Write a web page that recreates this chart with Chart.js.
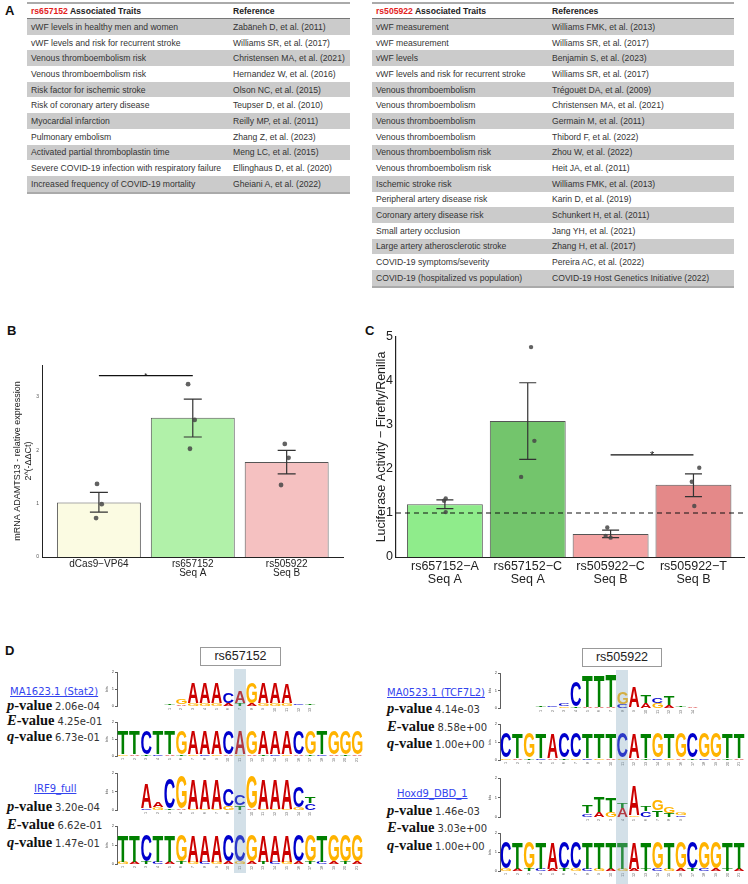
<!DOCTYPE html>
<html><head><meta charset="utf-8">
<script src="https://cdn.jsdelivr.net/npm/chart.js@4.4.1/dist/chart.umd.min.js"></script>
<style>
html,body{margin:0;padding:0;background:#fff}
body{width:748px;height:884px;position:relative;overflow:hidden;font-family:'Liberation Sans',Arial,sans-serif}
.pl{position:absolute;font:bold 13px 'Liberation Sans',Arial,sans-serif;color:#111;line-height:13px}
.tbl{position:absolute;border-top:2px solid #aaa;border-bottom:2px solid #aaa;font-size:8.6px;color:#333}
.row{display:flex;align-items:center;height:15.7px;white-space:nowrap}
.row.g{background:#cbcbcb}
.row.h{height:14px;border-bottom:1px solid #777;font-weight:bold;color:#222}
.cell{padding-left:4px;box-sizing:border-box;overflow:visible}
.red{color:#e3211c}
canvas{position:absolute}
.lnk{position:absolute;font:10px 'DejaVu Sans',sans-serif;color:#3344ee;text-decoration:underline;white-space:nowrap;line-height:12px}
.stat{position:absolute;white-space:nowrap;line-height:16px}
.stat b{font:bold 14.5px 'Liberation Serif',serif;color:#111}
.stat b i{font-style:italic}
.stat span{font:10px 'DejaVu Sans',sans-serif;color:#333;margin-left:3px}
.box{position:absolute;border:1px solid #999;box-sizing:border-box;text-align:center;font:12.5px 'Liberation Sans',Arial,sans-serif;color:#222}
.hl{position:absolute;background:rgba(129,166,189,0.35);pointer-events:none;z-index:5}
</style></head><body>
<div class="pl" style="left:5px;top:4px">A</div>
<div class="pl" style="left:7px;top:324px">B</div>
<div class="pl" style="left:365px;top:324px">C</div>
<div class="pl" style="left:5px;top:644px">D</div>
<div id="tblL" class="tbl" style="left:27px;top:2px;width:323px"></div>
<div id="tblR" class="tbl" style="left:372px;top:2px;width:362px"></div>
<canvas id="cB" width="370" height="255" style="left:0;top:330px"></canvas>
<canvas id="cC" width="378" height="265" style="left:370px;top:325px"></canvas>

<div class="box" style="left:200px;top:647px;width:81px;height:19px;line-height:17px">rs657152</div>
<div class="box" style="left:582px;top:648px;width:80px;height:19px;line-height:17px">rs505922</div>

<div class="lnk" style="left:10px;top:686px">MA1623.1 (Stat2)</div>
<div class="stat" style="left:7px;top:697px"><b><i>p</i>-value</b><span>2.06e-04</span></div>
<div class="stat" style="left:7px;top:712px"><b><i>E</i>-value</b><span>4.25e-01</span></div>
<div class="stat" style="left:7px;top:728px"><b><i>q</i>-value</b><span>6.73e-01</span></div>
<div class="lnk" style="left:34px;top:783px">IRF9_full</div>
<div class="stat" style="left:7px;top:798px"><b><i>p</i>-value</b><span>3.20e-04</span></div>
<div class="stat" style="left:7px;top:816px"><b><i>E</i>-value</b><span>6.62e-01</span></div>
<div class="stat" style="left:7px;top:834px"><b><i>q</i>-value</b><span>1.47e-01</span></div>

<div class="lnk" style="left:387px;top:687px">MA0523.1 (TCF7L2)</div>
<div class="stat" style="left:387px;top:700px"><b><i>p</i>-value</b><span>4.14e-03</span></div>
<div class="stat" style="left:387px;top:718px"><b><i>E</i>-value</b><span>8.58e+00</span></div>
<div class="stat" style="left:387px;top:735px"><b><i>q</i>-value</b><span>1.00e+00</span></div>
<div class="lnk" style="left:397px;top:788px">Hoxd9_DBD_1</div>
<div class="stat" style="left:387px;top:802px"><b><i>p</i>-value</b><span>1.46e-03</span></div>
<div class="stat" style="left:387px;top:819px"><b><i>E</i>-value</b><span>3.03e+00</span></div>
<div class="stat" style="left:387px;top:837px"><b><i>q</i>-value</b><span>1.00e+00</span></div>

<canvas id="lg1" width="261" height="50" style="left:105px;top:668px"></canvas>
<canvas id="lg2" width="261" height="50" style="left:105px;top:718px"></canvas>
<canvas id="lg3" width="261" height="53" style="left:105px;top:769px"></canvas>
<canvas id="lg4" width="261" height="54" style="left:105px;top:822px"></canvas>
<canvas id="lg5" width="260" height="51" style="left:488px;top:669px"></canvas>
<canvas id="lg6" width="260" height="52" style="left:488px;top:720px"></canvas>
<canvas id="lg7" width="260" height="55" style="left:488px;top:774px"></canvas>
<canvas id="lg8" width="260" height="54" style="left:488px;top:829px"></canvas>

<div class="hl" style="left:234px;top:669px;width:12px;height:204px"></div>
<div class="hl" style="left:616px;top:670px;width:12px;height:214px"></div>

<script>
// ================= Panel A data =================
const traits657152 = [
  'vWF levels in healthy men and women','vWF levels and risk for recurrent stroke','Venous thromboembolism risk',
  'Venous thromboembolism risk','Risk factor for ischemic stroke','Risk of coronary artery disease',
  'Myocardial infarction','Pulmonary embolism','Activated partial thromboplastin time',
  'Severe COVID-19 infection with respiratory failure','Increased frequency of COVID-19 mortality'];
const refs657152 = [
  'Zabäneh D, et al. (2011)','Williams SR, et al. (2017)','Christensen MA, et al. (2021)',
  'Hernandez W, et al. (2016)','Olson NC, et al. (2015)','Teupser D, et al. (2010)',
  'Reilly MP, et al. (2011)','Zhang Z, et al. (2023)','Meng LC, et al. (2015)',
  'Ellinghaus D, et al. (2020)','Gheiani A, et al. (2022)'];
const traits505922 = [
  'vWF measurement','vWF measurement','vWF levels','vWF levels and risk for recurrent stroke',
  'Venous thromboembolism','Venous thromboembolism','Venous thromboembolism','Venous thromboembolism',
  'Venous thromboembolism risk','Venous thromboembolism risk','Ischemic stroke risk',
  'Peripheral artery disease risk','Coronary artery disease risk','Small artery occlusion',
  'Large artery atherosclerotic stroke','COVID-19 symptoms/severity','COVID-19 (hospitalized vs population)'];
const refs505922 = [
  'Williams FMK, et al. (2013)','Williams SR, et al. (2017)','Benjamin S, et al. (2023)','Williams SR, et al. (2017)',
  'Trégouët DA, et al. (2009)','Christensen MA, et al. (2021)','Germain M, et al. (2011)','Thibord F, et al. (2022)',
  'Zhou W, et al. (2022)','Heit JA, et al. (2011)','Williams FMK, et al. (2013)','Karin D, et al. (2019)',
  'Schunkert H, et al. (2011)','Jang YH, et al. (2021)','Zhang H, et al. (2017)','Pereira AC, et al. (2022)',
  'COVID-19 Host Genetics Initiative (2022)'];

// ================= Panel B data =================
const bCategories = [['dCas9−VP64'], ['rs657152','Seq A'], ['rs505922','Seq B']];
const bMeans = [1.02, 2.61, 1.78];
const bErrLow = [0.84, 2.25, 1.56];
const bErrHigh = [1.21, 2.96, 2.00];
const bReplicates = [[1.37, 0.99, 0.73], [3.24, 2.57, 2.03], [2.12, 1.86, 1.35]];
const bJitter = [[-0.02, 0.03, -0.03], [-0.05, 0.02, -0.03], [-0.02, 0.02, -0.06]];
const bSignif = {from: 0, to: 1, y: 3.4, label: '*'};

// ================= Panel C data =================
const cCategories = [['rs657152−A','Seq A'], ['rs657152−C','Seq A'], ['rs505922−C','Seq B'], ['rs505922−T','Seq B']];
const cMeans = [1.20, 3.09, 0.52, 1.64];
const cErrLow = [1.10, 2.22, 0.44, 1.37];
const cErrHigh = [1.30, 3.96, 0.61, 1.89];
const cReplicates = [[1.33, 1.28, 1.02], [4.77, 2.64, 1.82], [0.67, 0.48, 0.44], [2.03, 1.71, 1.16]];
const cJitter = [[0.01, -0.01, 0.01], [0.04, 0.08, -0.08], [-0.04, -0.06, 0.0], [0.07, -0.02, 0.01]];
const cBaseline = 1;
const cSignif = {from: 2, to: 3, y: 2.32, label: '*'};

// ================= Panel D data (sequence logos, bits) =================
const seqSlots = ['1','2','3','4','5','6','7','8','9','10','11','12','13','14','15','16','17','18','19','20','21'];
const seqA_C = ['T','T','C','T','T','G','A','A','A','C','A','G','A','A','A','C','G','T','G','G','G'];
const seqA_A = ['T','T','C','T','T','G','A','A','A','C','C','G','A','A','A','C','G','T','G','G','G'];
const seqB_C = ['C','T','G','T','A','C','C','T','T','T','C','A','T','G','T','G','C','G','G','T','T'];
const seqB_T = ['C','T','G','T','A','C','C','T','T','T','T','A','T','G','T','G','C','G','G','T','T'];
const seqTopBits = [1.38,1.38,1.38,1.38,1.38,1.38,1.38,1.38,1.38,1.38,1.38,1.38,1.38,1.38,1.38,1.38,1.38,1.38,1.38,1.38,1.38];
const seqBaseLetters = ['G','A','T','C','A','T','G','C','G','A','G','A','T','C','G','A','T','C','A','T','A'];
const seqBaseBits = [0.12,0.12,0.12,0.12,0.12,0.12,0.12,0.12,0.12,0.12,0.12,0.12,0.12,0.12,0.12,0.12,0.12,0.12,0.12,0.12,0.12];

const stat2Top = ['T','G','A','A','A','C','A','G','A','A','A','C','T'];
const stat2TopBits = [0.05,0.28,1.22,1.22,1.22,0.58,0.65,1.20,1.18,1.18,1.12,0.06,0.04];
const stat2Low = ['A','A','G','G','G','A','T','A','G','G','G','A','A'];
const stat2LowBits = [0.04,0.12,0.15,0.15,0.15,0.15,0.18,0.15,0.15,0.15,0.15,0.05,0.03];
const stat2Offset = 4;

const irf9Top = ['A','A','C','G','A','A','A','C','C','G','A','A','A','C','T'];
const irf9TopBits = [1.30,0.29,1.60,1.75,1.60,1.60,1.60,0.95,0.54,1.75,1.60,1.60,1.60,1.10,0.35];
const irf9Low = ['C','G','T','A','G','G','G','G','T','A','G','G','G','G','C'];
const irf9LowBits = [0.10,0.16,0.06,0.06,0.06,0.06,0.06,0.20,0.25,0.06,0.06,0.06,0.06,0.15,0.40];
const irf9Offset = 2;

const tcfTop = ['T','C','C','C','T','T','T','G','A','T','C','T','T','A'];
const tcfTopBits = [0.04,0.05,0.13,1.40,1.80,1.75,1.85,0.68,1.20,0.44,0.32,0.52,0.08,0.03];
const tcfLow = ['A','G','G','T','A','A','A','C','G','A','G','A','A','C'];
const tcfLowBits = [0.04,0.03,0.10,0.10,0.06,0.06,0.06,0.22,0.05,0.28,0.30,0.18,0.04,0.02];
const tcfOffset = 3;

const hoxTop = ['T','T','T','T','A','T','G','G','G'];
const hoxTopBits = [0.36,0.78,0.75,0.25,1.55,0.25,0.50,0.30,0.10];
const hoxLow = ['C','A','G','A','G','C','T','T','C'];
const hoxLowBits = [0.18,0.26,0.25,0.45,0.08,0.30,0.35,0.20,0.10];
const hoxOffset = 7;

const letterColors = {A:'#cc0000', C:'#0000cc', G:'#ffb300', T:'#008000'};

// ================= Build tables =================
function buildTable(el, head1, head2, traits, refs, col1w) {
  let h = `<div class="row h"><div class="cell" style="width:${col1w}px"><span class="red">${head1}</span> Associated Traits</div><div class="cell">${head2}</div></div>`;
  traits.forEach((t, i) => {
    h += `<div class="row${i % 2 === 0 ? ' g' : ''}"><div class="cell" style="width:${col1w}px">${t}</div><div class="cell">${refs[i]}</div></div>`;
  });
  el.innerHTML = h;
}
buildTable(document.getElementById('tblL'), 'rs657152', 'Reference', traits657152, refs657152, 202);
buildTable(document.getElementById('tblR'), 'rs505922', 'References', traits505922, refs505922, 176);

// ================= Chart helpers =================
Chart.defaults.font.family = "'Liberation Sans', Arial, sans-serif";

function extrasPlugin(low, high, cap, color, lw, sig, starSize) {
  return {
    id: 'extras',
    afterDatasetDraw(chart, args) {
      if (args.index !== 0) return;
      const xs = chart.scales.x, ys = chart.scales.y, ctx = chart.ctx;
      ctx.save(); ctx.strokeStyle = color; ctx.lineWidth = lw;
      low.forEach((lo, i) => {
        const px = xs.getPixelForValue(i);
        const y1 = ys.getPixelForValue(lo), y2 = ys.getPixelForValue(high[i]);
        ctx.beginPath();
        ctx.moveTo(px, y1); ctx.lineTo(px, y2);
        ctx.moveTo(px - cap / 2, y1); ctx.lineTo(px + cap / 2, y1);
        ctx.moveTo(px - cap / 2, y2); ctx.lineTo(px + cap / 2, y2);
        ctx.stroke();
      });
      ctx.restore();
    },
    afterDatasetsDraw(chart) {
      const xs = chart.scales.x, ys = chart.scales.y, ctx = chart.ctx;
      ctx.save();
      ctx.fillStyle = '#111'; ctx.font = `${starSize}px 'Liberation Sans'`;
      ctx.textAlign = 'center'; ctx.textBaseline = 'alphabetic';
      ctx.fillText(sig.label, xs.getPixelForValue((sig.from + sig.to) / 2), ys.getPixelForValue(sig.y) - 1 + starSize * 0.45);
      ctx.restore();
    }
  };
}

function barChart(id, cfg) {
  const bars = cfg.means.map((v, i) => ({x: i, y: v}));
  const pts = [];
  cfg.reps.forEach((arr, i) => arr.forEach((v, j) => pts.push({x: i + cfg.jitter[i][j], y: v})));
  const sigLine = [{x: cfg.sig.from, y: cfg.sig.y}, {x: cfg.sig.to, y: cfg.sig.y}];
  const datasets = [
    {type: 'bar', data: bars, backgroundColor: cfg.colors, borderColor: '#555', borderWidth: 1,
     barPercentage: cfg.barPct, categoryPercentage: 1, order: 4},
    {type: 'line', data: sigLine, borderColor: '#111', borderWidth: 1.4, pointRadius: 0, order: 3}
  ];
  if (cfg.baseline !== undefined) {
    datasets.push({type: 'line', data: [{x: cfg.xmin, y: cfg.baseline}, {x: cfg.xmax + 0.02, y: cfg.baseline}],
      borderColor: '#111', borderWidth: 1.2, borderDash: [5, 4], pointRadius: 0, clip: false, order: 2});
  }
  datasets.push({type: 'scatter', data: pts, backgroundColor: 'rgba(70,70,70,0.85)', borderWidth: 0, pointRadius: cfg.ptR, order: 1});
  return new Chart(document.getElementById(id), {
    type: 'bar',
    data: {datasets},
    options: {
      responsive: false, animation: false, events: [],
      layout: {padding: cfg.padding},
      plugins: {legend: {display: false}, tooltip: {enabled: false}},
      scales: {
        x: {type: 'linear', offset: false, min: cfg.xmin, max: cfg.xmax,
            grid: {display: false, offset: false, drawTicks: false}, border: {display: true, color: '#222', width: 1},
            afterBuildTicks: s => { s.ticks = cfg.cats.map((_, i) => ({value: i})); },
            ticks: {callback: (v, i) => cfg.cats[i], font: {size: cfg.xFont, lineHeight: cfg.xLH}, color: '#222',
                    padding: cfg.xPad, maxRotation: 0, minRotation: 0, autoSkip: false},
            afterFit: s => { s.height = cfg.xH; }},
        y: {min: 0, max: cfg.ymax,
            grid: {display: false, drawTicks: false}, border: {display: true, color: '#222', width: cfg.yLW},
            afterBuildTicks: s => { s.ticks = cfg.yTicks.map(v => ({value: v})); },
            ticks: {font: {size: cfg.yFont}, color: cfg.yTickColor, padding: cfg.yPad},
            title: {display: true, text: cfg.yTitle, font: {size: cfg.yTitleFont, lineHeight: 1.2}, color: '#222',
                    padding: {top: cfg.yTitlePad, bottom: 0}},
            afterFit: s => { s.width = cfg.yW; }}
      }
    },
    plugins: [extrasPlugin(cfg.low, cfg.high, cfg.cap, '#333', 1.2, cfg.sig, cfg.star)]
  });
}

barChart('cB', {
  means: bMeans, reps: bReplicates, jitter: bJitter, low: bErrLow, high: bErrHigh, sig: bSignif, cats: bCategories,
  colors: ['#fbfbe2', '#b1f1a9', '#f5c1c1'], barPct: 0.894, xmin: -0.606, xmax: 2.6, ymax: 3.6, yTicks: [0, 1, 2, 3],
  padding: {left: 10, top: 35, right: 27, bottom: 0}, xH: 28, yW: 32, xFont: 10, xLH: 0.97, xPad: 2,
  yFont: 5, yTickColor: '#555', yPad: 3, yLW: 1,
  yTitle: ['mRNA ADAMTS13 - relative expression', '2^(-ΔΔCt)'], yTitleFont: 9, yTitlePad: 2.6,
  cap: 18, ptR: 2.4, star: 8
});

barChart('cC', {
  means: cMeans, reps: cReplicates, jitter: cJitter, low: cErrLow, high: cErrHigh, sig: cSignif, cats: cCategories,
  baseline: cBaseline,
  colors: ['#8fec8b', '#73c56c', '#f3a2a2', '#e48989'], barPct: 0.916, xmin: -0.59, xmax: 3.61, ymax: 5, yTicks: [0, 1, 2, 3, 4, 5],
  padding: {left: 4, top: 12, right: 4, bottom: 0}, xH: 33, yW: 22, xFont: 12.5, xLH: 1.05, xPad: 3,
  yFont: 12.5, yTickColor: '#222', yPad: 3, yLW: 1.2,
  yTitle: 'Luciferase Activity − Firefly/Renilla', yTitleFont: 12.5, yTitlePad: 0,
  cap: 17, ptR: 2.2, star: 11
});

// ================= Sequence logos =================
function drawLetter(ctx, L, x, y, w, h, color) {
  if (h < 0.3 || w <= 0) return;
  ctx.save();
  ctx.font = "bold 100px 'Liberation Sans'";
  ctx.textAlign = 'left'; ctx.textBaseline = 'alphabetic';
  const m = ctx.measureText(L);
  const gw = m.actualBoundingBoxLeft + m.actualBoundingBoxRight;
  const gh = m.actualBoundingBoxAscent + m.actualBoundingBoxDescent;
  ctx.translate(x, y + h);
  ctx.scale(w / gw, h / gh);
  ctx.fillStyle = color;
  ctx.fillText(L, m.actualBoundingBoxLeft, -m.actualBoundingBoxDescent);
  ctx.restore();
}
const letterPlugin = {
  id: 'letters',
  afterDatasetsDraw(chart) {
    const ctx = chart.ctx;
    chart.data.datasets.forEach((ds, di) => {
      const meta = chart.getDatasetMeta(di);
      meta.data.forEach((el, i) => {
        const L = ds.letters[i];
        if (!L) return;
        const p = el.getProps(['x', 'y', 'base', 'width'], true);
        const top = Math.min(p.y, p.base), bot = Math.max(p.y, p.base);
        drawLetter(ctx, L, p.x - p.width / 2, top, p.width, bot - top, letterColors[L]);
      });
    });
  }
};
function place(arr, offset, fillVal) {
  const out = seqSlots.map(() => fillVal);
  arr.forEach((v, i) => { out[i + offset] = v; });
  return out;
}
function motifTicks(n, offset) {
  return place(seqSlots.slice(0, n), offset, '');
}
function logo(id, lowL, lowB, topL, topB, ticks) {
  new Chart(document.getElementById(id), {
    type: 'bar',
    data: {
      labels: ticks,
      datasets: [
        {data: lowB, letters: lowL, backgroundColor: 'rgba(0,0,0,0)', borderWidth: 0, barPercentage: 0.9, categoryPercentage: 1},
        {data: topB, letters: topL, backgroundColor: 'rgba(0,0,0,0)', borderWidth: 0, barPercentage: 0.9, categoryPercentage: 1}
      ]
    },
    options: {
      responsive: false, animation: false, events: [],
      layout: {padding: {left: 0, top: 4, right: 3, bottom: 0}},
      plugins: {legend: {display: false}, tooltip: {enabled: false}},
      scales: {
        x: {stacked: true, grid: {display: false, drawTicks: false}, border: {display: false},
            ticks: {font: {size: 3.6}, color: '#555', maxRotation: 90, minRotation: 90, autoSkip: false, padding: 2},
            afterFit: s => { s.height = 12; }},
        y: {stacked: true, min: 0, max: 2, border: {display: true, color: '#333', width: 0.8},
            grid: {display: true, drawOnChartArea: false, drawTicks: true, tickLength: 2, color: '#333', lineWidth: 0.8},
            ticks: {stepSize: 1, font: {size: 4}, color: '#444', padding: 1},
            title: {display: true, text: 'bits', font: {size: 3.5}, color: '#444', padding: 0},
            afterFit: s => { s.width = 12; }}
      }
    },
    plugins: [letterPlugin]
  });
}

logo('lg1', place(stat2Low, stat2Offset, ''), place(stat2LowBits, stat2Offset, 0),
     place(stat2Top, stat2Offset, ''), place(stat2TopBits, stat2Offset, 0), motifTicks(stat2Top.length, stat2Offset));
logo('lg2', seqBaseLetters, seqBaseBits, seqA_C, seqTopBits, seqSlots);
logo('lg3', place(irf9Low, irf9Offset, ''), place(irf9LowBits, irf9Offset, 0),
     place(irf9Top, irf9Offset, ''), place(irf9TopBits, irf9Offset, 0), motifTicks(irf9Top.length, irf9Offset));
logo('lg4', seqBaseLetters, seqBaseBits, seqA_A, seqTopBits, seqSlots);

logo('lg5', place(tcfLow, tcfOffset, ''), place(tcfLowBits, tcfOffset, 0),
     place(tcfTop, tcfOffset, ''), place(tcfTopBits, tcfOffset, 0), motifTicks(tcfTop.length, tcfOffset));
logo('lg6', seqBaseLetters, seqBaseBits, seqB_C, seqTopBits, seqSlots);
logo('lg7', place(hoxLow, hoxOffset, ''), place(hoxLowBits, hoxOffset, 0),
     place(hoxTop, hoxOffset, ''), place(hoxTopBits, hoxOffset, 0), motifTicks(hoxTop.length, hoxOffset));
logo('lg8', seqBaseLetters, seqBaseBits, seqB_T, seqTopBits, seqSlots);
</script>
</body></html>
